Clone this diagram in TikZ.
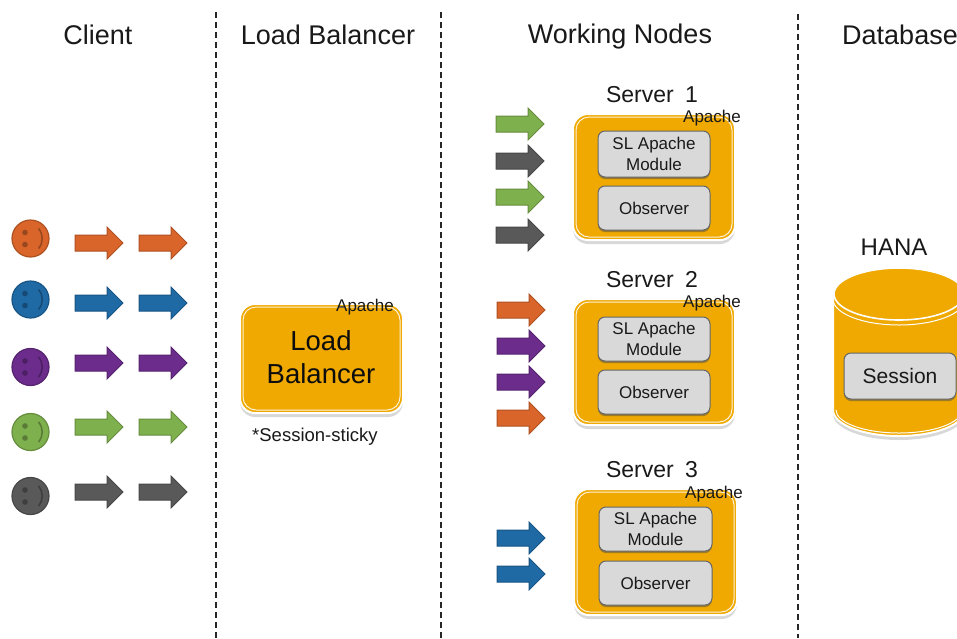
\documentclass[tikz,border=0pt]{standalone}
\usepackage{fontspec}
\setmainfont{Liberation Sans}
\usetikzlibrary{shadows}
\definecolor{cOrange}{HTML}{D9652B}
\definecolor{cBlue}{HTML}{1F6AA5}
\definecolor{cPurple}{HTML}{6B2C8B}
\definecolor{cGreen}{HTML}{7FB04E}
\definecolor{cGrey}{HTML}{595959}
\definecolor{cGold}{HTML}{EFA900}
\definecolor{cPanel}{HTML}{D9D9D9}
\tikzset{
  x=1pt,y=-1pt,
  softshadow/.style={drop shadow={shadow xshift=0pt,shadow yshift=-4pt,opacity=.3,fill=black!50}},
  head/.style={font=\fontsize{27}{30}\selectfont,text=black!90,anchor=base,inner sep=0},
  divider/.style={line width=1.1pt,dash pattern=on 6pt off 4pt,black!85},
  goldbox/.style={draw=white,line width=2pt,rounded corners=15pt,fill=cGold,softshadow},
  ring/.style={draw=white!85!cGold,line width=1pt,rounded corners=13pt},
  graybox/.style={draw=black!60,line width=1pt,rounded corners=7pt,fill=cPanel,
    drop shadow={shadow xshift=0pt,shadow yshift=-2pt,opacity=.5,fill=black!70}},
  small/.style={font=\fontsize{17}{20}\selectfont,text=black!90,inner sep=0},
  srv/.style={font=\fontsize{23}{27}\selectfont,text=black!90,inner sep=0},
}
\newcommand{\barrow}[3]{\path[fill=#3,draw=#3!80!black,line width=1pt] (#1,#2-8) -- (#1+32,#2-8) -- (#1+32,#2-16) -- (#1+48,#2) -- (#1+32,#2+16) -- (#1+32,#2+8) -- (#1,#2+8) -- cycle;}
\newcommand{\smiley}[3]{\path[fill=#3,draw=#3!80!black,line width=1.2pt] (#1,#2) circle (18.5);
  \fill[#3!70!black] (#1-5.5,#2-6) circle (2.8) (#1-5.5,#2+6) circle (2.8);
  \draw[#3!70!black,line width=1.6pt] (#1+8,#2-10) .. controls (#1+13,#2-4) and (#1+13,#2+4) .. (#1+8,#2+10);}
\newcommand{\goldrect}[5]{% name, x1,y1,x2,y2
  \path[goldbox] (#2,#3) rectangle (#4,#5);
  \path[ring] (#2+3,#3+3) rectangle (#4-3,#5-3);
  \coordinate (#1) at ({(#2+#4)/2},{(#3+#5)/2});}
\newcommand{\grayrect}[7][17]{% size; name,x1,y1,x2,y2,text
  \path[graybox] (#3,#4) rectangle (#5,#6);
  \node[font=\fontsize{#1}{21}\selectfont,text=black!90,align=center,inner sep=0] (#2) at ({(#3+#5)/2},{(#4+#6)/2}) {#7};}
\begin{document}
\begin{tikzpicture}
\useasboundingbox (0,0) rectangle (957,638);
\fill[white] (0,0) rectangle (957,638);

% Headers
\node[head] (hClient) at (98,44) {Client};
\node[head] (hLB) at (328,44) {Load Balancer};
\node[head] (hWork) at (620,43) {Working Nodes};
\node[head,anchor=base west] (hDB) at (842,44) {Database};

% Dividers
\coordinate (d1a) at (216,12); \coordinate (d1b) at (216,638);
\coordinate (d2a) at (441,12); \coordinate (d2b) at (441,638);
\coordinate (d3a) at (798,14); \coordinate (d3b) at (798,638);
\draw[divider] (d1a) -- (d1b);
\draw[divider] (d2a) -- (d2b);
\draw[divider] (d3a) -- (d3b);

% Clients
\smiley{30.5}{238.5}{cOrange}
\smiley{30.5}{299.5}{cBlue}
\smiley{30.5}{367}{cPurple}
\smiley{30.5}{432}{cGreen}
\smiley{30.5}{496}{cGrey}
\barrow{75}{243}{cOrange}\barrow{139}{243}{cOrange}
\barrow{75}{303}{cBlue}\barrow{139}{303}{cBlue}
\barrow{75}{363}{cPurple}\barrow{139}{363}{cPurple}
\barrow{75}{427}{cGreen}\barrow{139}{427}{cGreen}
\barrow{75}{492}{cGrey}\barrow{139}{492}{cGrey}

% Load balancer
\goldrect{lb}{240}{304}{403}{413}
\node[font=\fontsize{27.5}{33}\selectfont,align=center,text=black!95,inner sep=0] (lbt) at (321,357) {Load\\Balancer};
\node[small] (lba) at (365,307) {Apache};
\node[small,font=\fontsize{18.5}{20}\selectfont,anchor=west] (lbs) at (252,437) {*Session-sticky};

% Server 1
\node[srv] (s1) at (652,95) {Server\hspace{5pt} 1};
\goldrect{s1box}{573}{114}{735}{240}
\node[small] (s1a) at (712,118.5) {Apache};
\grayrect{s1m}{598}{131}{710}{177}{SL Apache\\Module}
\grayrect{s1o}{598}{186}{710}{230}{Observer}
\barrow{496}{124}{cGreen}\barrow{496}{161}{cGrey}\barrow{496}{197}{cGreen}\barrow{496}{235}{cGrey}

% Server 2
\node[srv] (s2) at (652,280) {Server\hspace{5pt} 2};
\goldrect{s2box}{573}{299}{735}{425}
\node[small] (s2a) at (712,303.5) {Apache};
\grayrect{s2m}{598}{317}{710}{361}{SL Apache\\Module}
\grayrect{s2o}{598}{370}{710}{414}{Observer}
\barrow{497}{310}{cOrange}\barrow{497}{346}{cPurple}\barrow{497}{382}{cPurple}\barrow{497}{418}{cOrange}

% Server 3
\node[srv] (s3) at (652,470) {Server\hspace{5pt} 3};
\goldrect{s3box}{574}{489}{737}{615}
\node[small] (s3a) at (714,494.5) {Apache};
\grayrect{s3m}{599}{507}{712}{551}{SL Apache\\Module}
\grayrect{s3o}{599}{561}{712}{605}{Observer}
\barrow{497}{538}{cBlue}\barrow{497}{574}{cBlue}

% Database
\node[font=\fontsize{24}{28}\selectfont,text=black!90,inner sep=0] (hana) at (894,247) {HANA};
\path[fill=cGold,draw=white,line width=2pt,softshadow]
  (833,294) -- (833,410) arc[start angle=180,end angle=360,x radius=66pt,y radius=26pt]
  -- (965,294) arc[start angle=0,end angle=180,x radius=66pt,y radius=26pt] -- cycle;
\path[fill=cGold,draw=white,line width=1.6pt] (899,294) ellipse [x radius=65pt,y radius=26pt];
\draw[white,line width=1pt] (833,299) arc[start angle=180,end angle=360,x radius=66pt,y radius=26pt];
\draw[white,line width=1pt] (836,410) arc[start angle=180,end angle=360,x radius=63pt,y radius=23pt];
\grayrect[21]{sess}{844}{353}{956}{399}{Session}
\end{tikzpicture}
\end{document}
